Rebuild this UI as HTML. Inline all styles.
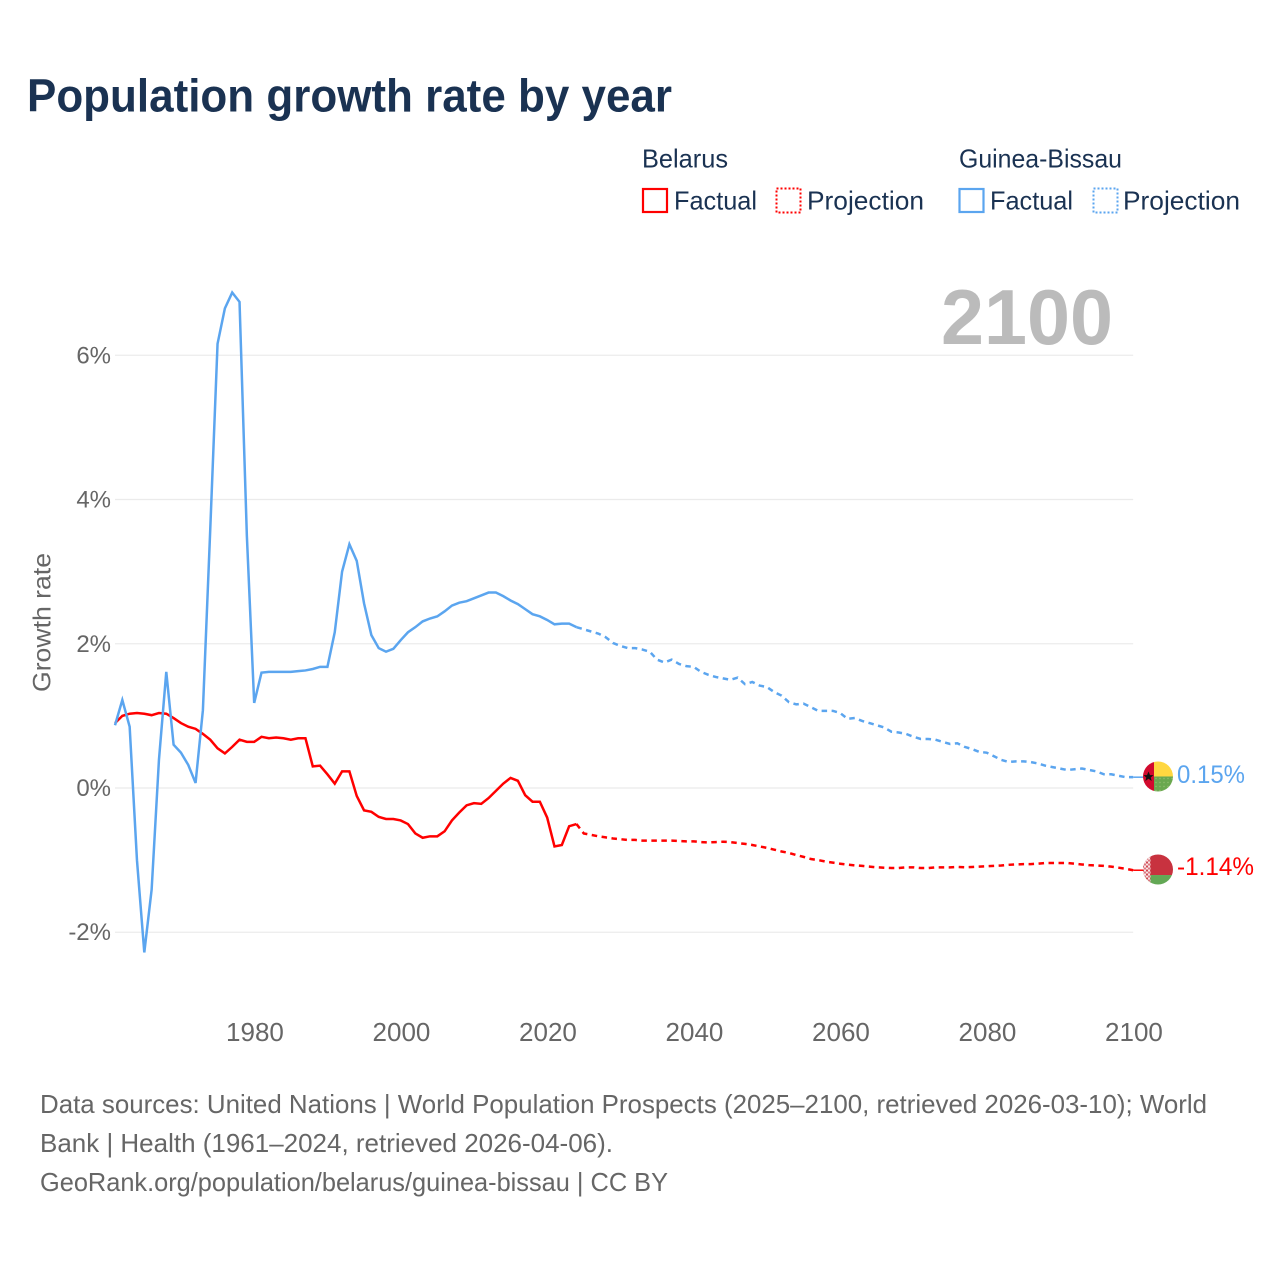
<!DOCTYPE html>
<html lang="en">
<head>
<meta charset="utf-8">
<title>Population growth rate by year</title>
<style>
html,body{margin:0;padding:0;background:#fff;}
svg{display:block;font-family:"Liberation Sans",sans-serif;}
</style>
</head>
<body>
<svg id="chart" xmlns="http://www.w3.org/2000/svg" width="1280" height="1280" viewBox="0 0 1280 1280">
  <defs>
    <clipPath id="flag-clip"><circle cx="0" cy="0" r="15"/></clipPath>
    <pattern id="belarus-ornament" width="4" height="4" patternUnits="userSpaceOnUse">
      <rect width="4" height="4" fill="#f8e6e6"/>
      <rect x="0" y="0" width="2" height="2" fill="#cf4853"/>
      <rect x="2" y="2" width="2" height="2" fill="#dc7780"/>
    </pattern>
    <pattern id="bissau-dots" width="4" height="4" patternUnits="userSpaceOnUse">
      <rect width="4" height="4" fill="#6aa84f"/>
      <circle cx="2" cy="2" r="0.7" fill="#93bf72"/>
    </pattern>
  </defs>
  <rect width="1280" height="1280" fill="#fff"/>
  <text x="27" y="111.5" font-size="46" font-weight="700" fill="#1a3252" textLength="645" lengthAdjust="spacingAndGlyphs">Population growth rate by year</text>

  <g font-size="26" fill="#1a3252">
    <text x="642" y="167.5" textLength="86" lengthAdjust="spacingAndGlyphs">Belarus</text>
    <text x="959" y="167.5" textLength="163" lengthAdjust="spacingAndGlyphs">Guinea-Bissau</text>
    <rect x="643" y="189" width="24" height="23" fill="none" stroke="#ff0000" stroke-width="2.2"/>
    <text x="674" y="209.5" textLength="83" lengthAdjust="spacingAndGlyphs">Factual</text>
    <rect x="776.5" y="188.5" width="24" height="24" fill="none" stroke="#ff0000" stroke-width="2" stroke-dasharray="2 2"/>
    <text x="807" y="209.5" textLength="117" lengthAdjust="spacingAndGlyphs">Projection</text>
    <rect x="959.5" y="189" width="24" height="23" fill="none" stroke="#5ba5ef" stroke-width="2.2"/>
    <text x="990" y="209.5" textLength="83" lengthAdjust="spacingAndGlyphs">Factual</text>
    <rect x="1093.5" y="188.5" width="24" height="24" fill="none" stroke="#5ba5ef" stroke-width="2" stroke-dasharray="2 2"/>
    <text x="1123" y="209.5" textLength="117" lengthAdjust="spacingAndGlyphs">Projection</text>
  </g>

  <g id="grid"></g>
  <text x="941" y="344" font-size="78" font-weight="700" fill="#bbbbbb" textLength="172" lengthAdjust="spacingAndGlyphs">2100</text>
  <g id="y-ticks" font-size="24" fill="#666" text-anchor="end"></g>
  <g id="x-ticks" font-size="26" fill="#666" text-anchor="middle"></g>
  <text transform="translate(50.5 692) rotate(-90)" font-size="25" fill="#666" textLength="139" lengthAdjust="spacingAndGlyphs">Growth rate</text>

  <g id="series"></g>

  <g id="flag-bissau">
    <g clip-path="url(#flag-clip)">
      <rect x="-15" y="-15" width="11" height="30" fill="#d20a2e"/>
      <rect x="-4" y="-15" width="19" height="15" fill="#ffd740"/>
      <rect x="-4" y="0" width="19" height="15" fill="url(#bissau-dots)"/>
      <polygon points="-9.5,-5 -8,-1.3 -4.5,-1.3 -7.3,1 -6.3,4.5 -9.5,2.3 -12.7,4.5 -11.7,1 -14.5,-1.3 -11,-1.3" fill="#111"/>
    </g>
  </g>
  <g id="flag-belarus">
    <g clip-path="url(#flag-clip)">
      <rect x="-15" y="-15" width="30" height="20.5" fill="#c8323f"/>
      <rect x="-15" y="5.5" width="30" height="10" fill="#63a855"/>
      <rect x="-15" y="-15" width="7.5" height="30" fill="url(#belarus-ornament)"/>
    </g>
  </g>
  <text id="end-label-bissau" x="1177" font-size="25" fill="#5ba5ef" textLength="68" lengthAdjust="spacingAndGlyphs"></text>
  <text id="end-label-belarus" x="1177" font-size="25" fill="#ff0000" textLength="77" lengthAdjust="spacingAndGlyphs"></text>

  <g font-size="26" fill="#666">
    <text x="40" y="1113" textLength="1167" lengthAdjust="spacingAndGlyphs">Data sources: United Nations | World Population Prospects (2025–2100, retrieved 2026-03-10); World</text>
    <text x="40" y="1152" textLength="573" lengthAdjust="spacingAndGlyphs">Bank | Health (1961–2024, retrieved 2026-04-06).</text>
    <text x="40" y="1191" textLength="628" lengthAdjust="spacingAndGlyphs">GeoRank.org/population/belarus/guinea-bissau | CC BY</text>
  </g>
</svg>
<script>
const factualYears = [1961,1962,1963,1964,1965,1966,1967,1968,1969,1970,1971,1972,1973,1974,1975,1976,1977,1978,1979,1980,1981,1982,1983,1984,1985,1986,1987,1988,1989,1990,1991,1992,1993,1994,1995,1996,1997,1998,1999,2000,2001,2002,2003,2004,2005,2006,2007,2008,2009,2010,2011,2012,2013,2014,2015,2016,2017,2018,2019,2020,2021,2022,2023,2024];
const projectionYears = [2025,2026,2027,2028,2029,2030,2031,2032,2033,2034,2035,2036,2037,2038,2039,2040,2041,2042,2043,2044,2045,2046,2047,2048,2049,2050,2051,2052,2053,2054,2055,2056,2057,2058,2059,2060,2061,2062,2063,2064,2065,2066,2067,2068,2069,2070,2071,2072,2073,2074,2075,2076,2077,2078,2079,2080,2081,2082,2083,2084,2085,2086,2087,2088,2089,2090,2091,2092,2093,2094,2095,2096,2097,2098,2099,2100];
const belarusFactual = [0.90,1.00,1.03,1.04,1.03,1.01,1.04,1.03,0.97,0.90,0.85,0.82,0.75,0.67,0.55,0.48,0.57,0.67,0.64,0.64,0.71,0.69,0.70,0.69,0.67,0.69,0.69,0.30,0.31,0.19,0.06,0.23,0.23,-0.11,-0.31,-0.33,-0.40,-0.43,-0.43,-0.45,-0.50,-0.63,-0.69,-0.67,-0.67,-0.60,-0.45,-0.34,-0.24,-0.21,-0.22,-0.14,-0.04,0.06,0.14,0.10,-0.10,-0.19,-0.19,-0.41,-0.81,-0.79,-0.53,-0.50];
const belarusProjection = [-0.63,-0.65,-0.67,-0.685,-0.70,-0.71,-0.72,-0.72,-0.73,-0.73,-0.73,-0.73,-0.73,-0.735,-0.74,-0.74,-0.75,-0.755,-0.75,-0.745,-0.75,-0.763,-0.775,-0.79,-0.81,-0.83,-0.855,-0.88,-0.90,-0.93,-0.955,-0.985,-1.00,-1.02,-1.035,-1.05,-1.063,-1.073,-1.08,-1.09,-1.10,-1.105,-1.11,-1.11,-1.10,-1.10,-1.11,-1.11,-1.10,-1.10,-1.10,-1.095,-1.10,-1.095,-1.09,-1.085,-1.08,-1.075,-1.065,-1.06,-1.055,-1.055,-1.05,-1.04,-1.04,-1.04,-1.04,-1.05,-1.06,-1.07,-1.075,-1.08,-1.09,-1.105,-1.12,-1.14];
const bissauFactual = [0.87,1.22,0.85,-1.00,-2.28,-1.41,0.39,1.61,0.60,0.49,0.32,0.07,1.08,3.58,6.16,6.65,6.87,6.74,3.50,1.18,1.60,1.61,1.61,1.61,1.61,1.62,1.63,1.65,1.68,1.68,2.16,3.00,3.38,3.15,2.56,2.12,1.94,1.89,1.93,2.05,2.16,2.23,2.31,2.35,2.38,2.45,2.53,2.57,2.59,2.63,2.67,2.71,2.71,2.66,2.60,2.55,2.48,2.41,2.38,2.33,2.27,2.28,2.28,2.23];
const bissauProjection = [2.20,2.17,2.14,2.09,2.01,1.97,1.94,1.94,1.92,1.89,1.78,1.74,1.78,1.72,1.69,1.68,1.61,1.57,1.54,1.52,1.50,1.53,1.44,1.47,1.42,1.40,1.33,1.28,1.19,1.16,1.17,1.12,1.07,1.07,1.07,1.04,0.96,0.97,0.93,0.90,0.87,0.84,0.78,0.77,0.75,0.71,0.68,0.68,0.67,0.64,0.61,0.62,0.57,0.54,0.50,0.49,0.44,0.39,0.36,0.37,0.37,0.36,0.34,0.31,0.29,0.27,0.25,0.26,0.27,0.25,0.23,0.19,0.19,0.17,0.15,0.15];
const xTickValues = [1980,2000,2020,2040,2060,2080,2100];
const yTickValues = [6,4,2,0,-2];

const X0 = 115, PX_PER_YEAR = 7.325, FIRST_YEAR = 1961, LAST_YEAR = 2100, Y0 = 788, PX_PER_PCT = 72.12;
function xScale(year) { return X0 + (year - FIRST_YEAR) * PX_PER_YEAR; }
function yScale(value) { return Y0 - value * PX_PER_PCT; }
const NS = 'http://www.w3.org/2000/svg';
function make(tag, parent) { const el = document.createElementNS(NS, tag); parent.appendChild(el); return el; }
function points(years, values) { return years.map((yr, i) => xScale(yr).toFixed(2) + ',' + yScale(values[i]).toFixed(2)).join(' '); }

const grid = document.getElementById('grid');
const yTicks = document.getElementById('y-ticks');
yTickValues.forEach(function (v) {
  const line = make('line', grid);
  
  
  line.setAttribute('x1', xScale(FIRST_YEAR));
  line.setAttribute('x2', xScale(LAST_YEAR));
  line.setAttribute('y1', yScale(v));
  line.setAttribute('y2', yScale(v));
  line.setAttribute('stroke', '#ebebeb');
  line.setAttribute('stroke-width', '1.2');
  const label = make('text', yTicks);
  
  
  label.setAttribute('x', 111);
  label.setAttribute('y', yScale(v) + 8);
  label.textContent = v + '%';
});

const xTicks = document.getElementById('x-ticks');
xTickValues.forEach(function (yr) {
  const label = make('text', xTicks);
  
  
  label.setAttribute('x', xScale(yr) + 0.8);
  label.setAttribute('y', 1041);
  label.textContent = yr;
});

const seriesGroup = document.getElementById('series');
function drawSeries(factual, projection, color, endName, factName, projName) {
  const lastYear = factualYears[factualYears.length - 1];
  const lastFact = factual[factual.length - 1];
  const fact = make('polyline', seriesGroup);
  
  
  fact.setAttribute('points', points(factualYears, factual));
  fact.setAttribute('fill', 'none');
  fact.setAttribute('stroke', color);
  fact.setAttribute('stroke-width', '2.5');
  fact.setAttribute('stroke-linejoin', 'miter');
  const proj = make('polyline', seriesGroup);
  
  
  proj.setAttribute('points', points([lastYear].concat(projectionYears), [lastFact].concat(projection)));
  proj.setAttribute('fill', 'none');
  proj.setAttribute('stroke', color);
  proj.setAttribute('stroke-width', '2.5');
  proj.setAttribute('stroke-dasharray', '5.5 4.5');
  const endValue = projection[projection.length - 1];
  const leader = make('line', seriesGroup);
  
  
  leader.setAttribute('x1', xScale(LAST_YEAR));
  leader.setAttribute('x2', 1146);
  leader.setAttribute('y1', yScale(endValue));
  leader.setAttribute('y2', yScale(endValue));
  leader.setAttribute('stroke', color);
  leader.setAttribute('stroke-width', '1.5');
  return endValue;
}
const belarusEnd = drawSeries(belarusFactual, belarusProjection, '#ff0000', 'belarus-leader-line', 'belarus-factual-line', 'belarus-projection-line');
const bissauEnd = drawSeries(bissauFactual, bissauProjection, '#5ba5ef', 'guinea-bissau-leader-line', 'guinea-bissau-factual-line', 'guinea-bissau-projection-line');

document.getElementById('flag-bissau').setAttribute('transform', 'translate(1158 ' + (yScale(bissauEnd) - 0.7) + ')');
document.getElementById('flag-belarus').setAttribute('transform', 'translate(1158 ' + (yScale(belarusEnd) - 0.7) + ')');
const endBissau = document.getElementById('end-label-bissau');
endBissau.setAttribute('y', yScale(bissauEnd) + 6);
endBissau.textContent = bissauEnd.toFixed(2) + '%';
const endBelarus = document.getElementById('end-label-belarus');
endBelarus.setAttribute('y', yScale(belarusEnd) + 5);
endBelarus.textContent = belarusEnd.toFixed(2) + '%';
</script>
</body>
</html>
